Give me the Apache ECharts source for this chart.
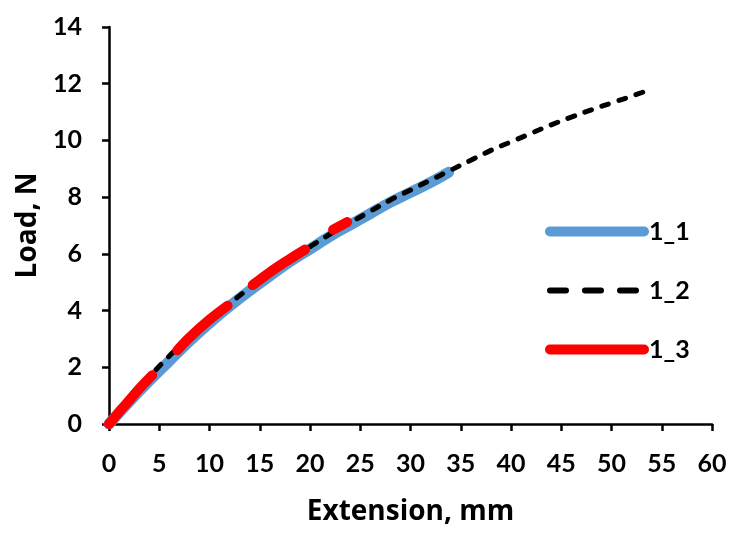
<!DOCTYPE html>
<html><head><meta charset="utf-8">
<script src="https://cdn.jsdelivr.net/npm/echarts@6/dist/echarts.min.js"></script>
<style>html,body{margin:0;padding:0;background:#fff}#c{width:750px;height:540px}</style>
</head><body><div id="c"></div>
<script>
const seriesNames = ['1_1', '1_2', '1_3'];
const ext11 = [0, 2, 4, 6, 8, 10, 12, 14, 16, 18, 20, 22, 24, 26, 28, 30, 32, 33.8];
const load11 = [0, 0.78, 1.52, 2.22, 2.92, 3.56, 4.15, 4.7, 5.22, 5.72, 6.17, 6.62, 7.02, 7.42, 7.82, 8.17, 8.52, 8.88];
const ext12 = [0, 2, 4, 6, 8, 10, 12, 14, 16, 18, 20, 22, 24, 26, 28, 30, 32, 34, 36, 38, 40, 42, 44, 46, 48, 50, 52, 53.5];
const load12 = [0, 0.85, 1.65, 2.4, 3.05, 3.7, 4.25, 4.8, 5.3, 5.8, 6.25, 6.7, 7.1, 7.5, 7.9, 8.25, 8.6, 8.95, 9.3, 9.65, 9.95, 10.25, 10.55, 10.82, 11.08, 11.32, 11.56, 11.75];
const ext13 = [0, 1, 2, 3, 4.3, 5.5, 6.8, 8, 10, 11.8, 13, 14.3, 16, 18, 19.5, 21, 22.3, 23.7];
const load13 = [0, 0.42, 0.83, 1.24, 1.72, null, 2.6, 3.05, 3.68, 4.17, null, 4.9, 5.35, 5.82, 6.15, null, 6.85, 7.12];
const xTicks = {min: 0, max: 60, interval: 5};
const yTicks = {min: 0, max: 14, interval: 2};

function pairs(xs, ys) { return xs.map((x, i) => [x, ys[i] === null ? '-' : ys[i]]); }

const font = 'Lato, "Open Sans", sans-serif';
const nameFont = '"Open Sans", Lato, sans-serif';
const hidden = {opacity: 0, color: 'rgba(0,0,0,0)', borderWidth: 0};
const chart = echarts.init(document.getElementById('c'), null, {renderer: 'canvas'});
chart.setOption({
  animation: false,
  backgroundColor: '#fff',
  grid: {left: 109, right: 38, top: 27, bottom: 116, outerBoundsMode: 'none', containLabel: false},
  legend: {
    orient: 'vertical', left: 545, top: 219, itemGap: 34, padding: 0,
    itemWidth: 94, itemHeight: 24,
    textStyle: {fontFamily: font, fontWeight: 'bold', fontSize: 25, color: '#000'},
    data: [
      {name: seriesNames[0], itemStyle: hidden, lineStyle: {width: 10, color: '#5B9BD5', cap: 'round'}},
      {name: seriesNames[1], itemStyle: hidden, lineStyle: {width: 6, color: '#000', type: [16, 19], cap: 'round'}},
      {name: seriesNames[2], itemStyle: hidden, lineStyle: {width: 10, color: '#FF0000', cap: 'round'}}
    ]
  },
  xAxis: {
    type: 'value', min: xTicks.min, max: xTicks.max, interval: xTicks.interval,
    name: 'Extension, mm', nameLocation: 'middle', nameGap: 74,
    nameTextStyle: {fontFamily: nameFont, fontWeight: 'bold', fontSize: 28, color: '#000'},
    axisLine: {onZero: false, lineStyle: {color: '#000', width: 2.5}},
    axisTick: {show: true, length: 7, lineStyle: {color: '#000', width: 2.5}},
    axisLabel: {fontFamily: font, fontWeight: 'bold', fontSize: 25, color: '#000', margin: 27},
    splitLine: {show: false}
  },
  yAxis: {
    type: 'value', min: yTicks.min, max: yTicks.max, interval: yTicks.interval,
    name: 'Load, N', nameLocation: 'middle', nameGap: 67, nameRotate: 90,
    nameTextStyle: {fontFamily: nameFont, fontWeight: 'bold', fontSize: 28, color: '#000'},
    axisLine: {onZero: false, lineStyle: {color: '#000', width: 2.5}},
    axisTick: {show: true, length: 7, lineStyle: {color: '#000', width: 2.5}},
    axisLabel: {fontFamily: font, fontWeight: 'bold', fontSize: 25, color: '#000', margin: 27},
    splitLine: {show: false}
  },
  series: [
    {name: seriesNames[0], type: 'line', symbol: 'none', smooth: 0.4, data: pairs(ext11, load11),
     lineStyle: {color: '#5B9BD5', width: 11, cap: 'round'}, itemStyle: {color: '#5B9BD5'}, z: 1},
    {name: seriesNames[1], type: 'line', symbol: 'none', smooth: 0.4, data: pairs(ext12, load12),
     lineStyle: {color: '#000', width: 5, type: [7, 11], cap: 'round'}, itemStyle: {color: '#000'}, z: 2},
    {name: seriesNames[2], type: 'line', symbol: 'none', smooth: 0.4, connectNulls: false, data: pairs(ext13, load13),
     lineStyle: {color: '#FF0000', width: 10, cap: 'round'}, itemStyle: {color: '#FF0000'}, z: 3}
  ]
});
</script></body></html>
